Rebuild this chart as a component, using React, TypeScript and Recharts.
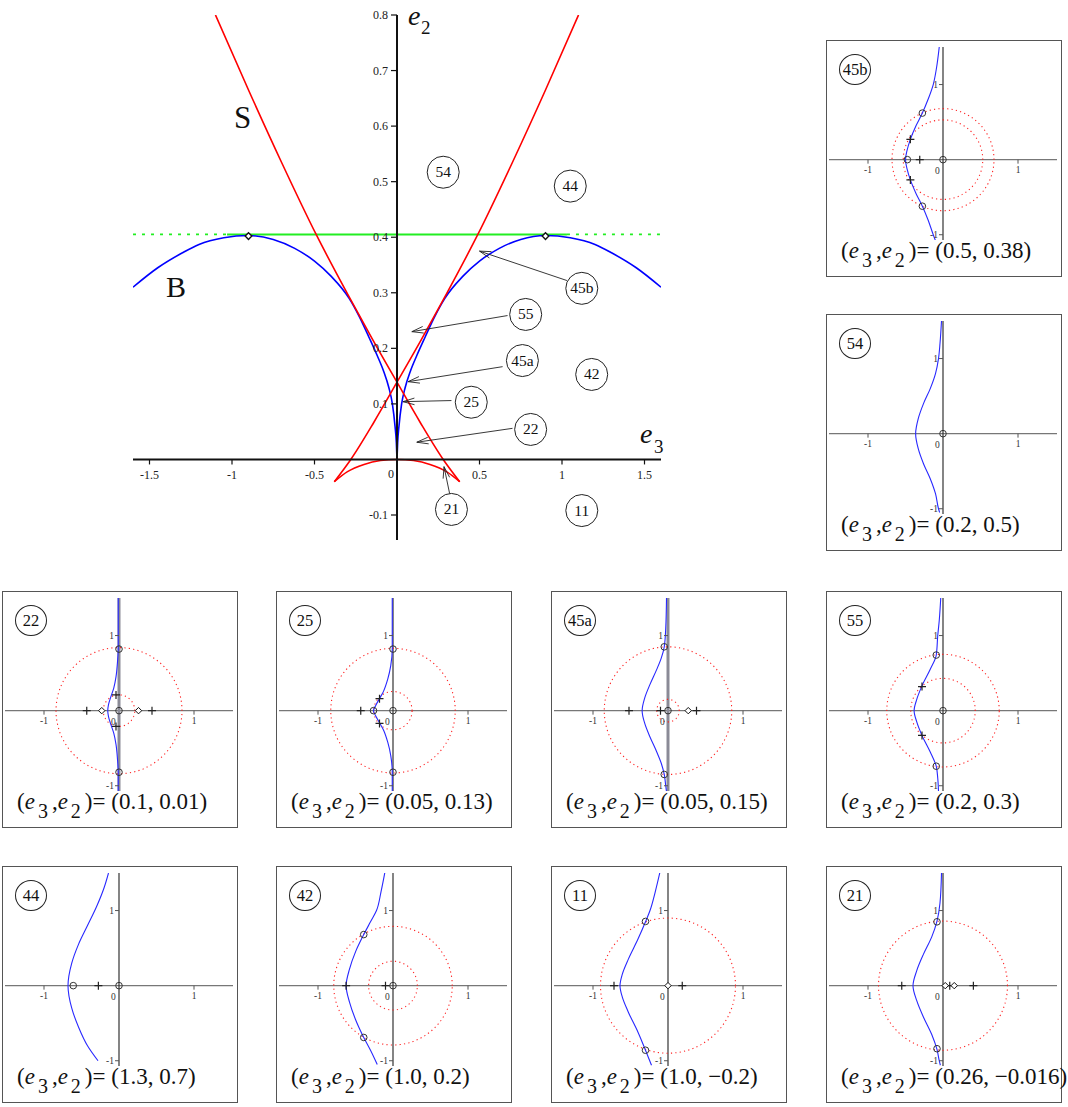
import React from "react"
import { ComposedChart, Line, XAxis, YAxis, ReferenceLine, ReferenceDot } from "recharts"

type XY = [number, number]

// ---- main diagram (e3, e2) ----
const xTicks = [-1.5, -1, -0.5, 0.5, 1, 1.5]
const xTickLabels = ["-1.5", "-1", "-0.5", "0.5", "1", "1.5"]
const yTicks = [-0.1, 0.1, 0.2, 0.3, 0.4, 0.5, 0.6, 0.7, 0.8]
const yTickLabels = ["-0.1", "0.1", "0.2", "0.3", "0.4", "0.5", "0.6", "0.7", "0.8"]

const blueRight: XY[] = [
  [0, 0], [0.004, 0.03], [0.012, 0.06], [0.028, 0.1], [0.05, 0.13], [0.08, 0.158], [0.12, 0.187],
  [0.17, 0.22], [0.23, 0.258], [0.29, 0.29], [0.4, 0.33], [0.5, 0.357], [0.62, 0.38], [0.75, 0.396],
  [0.9, 0.403], [1.05, 0.399], [1.2, 0.387], [1.3, 0.372], [1.45, 0.345], [1.6, 0.31],
]
const blueLeft: XY[] = [
  [-1.6, 0.31], [-1.45, 0.345], [-1.3, 0.372], [-1.2, 0.387], [-1.05, 0.399], [-0.9, 0.403],
  [-0.75, 0.396], [-0.62, 0.38], [-0.5, 0.357], [-0.4, 0.33], [-0.29, 0.29], [-0.23, 0.258],
  [-0.17, 0.22], [-0.12, 0.187], [-0.08, 0.158], [-0.05, 0.13], [-0.028, 0.1], [-0.012, 0.06],
  [-0.004, 0.03], [0, 0],
]
const redRising: XY[] = [
  [-0.38, -0.04], [-0.28, 0], [-0.14, 0.067], [0, 0.139], [0.15, 0.217], [0.3, 0.298],
  [0.49, 0.405], [0.7, 0.535], [0.9, 0.665], [1.1, 0.8],
]
const redFalling: XY[] = [
  [-1.1, 0.8], [-0.9, 0.665], [-0.7, 0.535], [-0.49, 0.405], [-0.3, 0.298], [-0.15, 0.217],
  [0, 0.139], [0.14, 0.067], [0.28, 0], [0.38, -0.04],
]
const redArc: XY[] = [
  [-0.38, -0.04], [-0.3, -0.022], [-0.2, -0.009], [-0.1, -0.002], [0, 0],
  [0.1, -0.002], [0.2, -0.009], [0.3, -0.022], [0.38, -0.04],
]
const greenLevel = 0.405
const greenSolidFrom = -1.03
const greenSolidTo = 1.03
const peakDiamonds: XY[] = [[-0.9, 0.402], [0.9, 0.402]]

const bubbleNames = ["54", "44", "45b", "55", "45a", "42", "25", "22", "21", "11"]
const bubbleE3 = [0.28, 1.05, 1.12, 0.78, 0.76, 1.18, 0.45, 0.81, 0.33, 1.12]
const bubbleE2 = [0.517, 0.492, 0.308, 0.261, 0.178, 0.153, 0.103, 0.054, -0.09, -0.092]

const arrowFrom: XY[] = [[1.03, 0.322], [0.67, 0.259], [0.64, 0.167], [0.33, 0.106], [0.7, 0.056], [0.32, -0.063]]
const arrowTo: XY[] = [[0.5, 0.375], [0.09, 0.23], [0.067, 0.14], [0.036, 0.104], [0.12, 0.031], [0.285, -0.013]]

// ---- small panels (complex plane) ----
const curve45b: XY[] = [[-0.1, -1.08], [-0.13, -1.0], [-0.2, -0.8], [-0.275, -0.62], [-0.36, -0.45], [-0.435, -0.27], [-0.48, -0.12], [-0.5, 0], [-0.48, 0.12], [-0.435, 0.27], [-0.36, 0.45], [-0.275, 0.62], [-0.2, 0.8], [-0.13, 1.0], [-0.09, 1.2], [-0.05, 1.5]]
const rings45b = [0.68, 0.53]
const o45b: XY[] = [[0, 0], [-0.475, 0], [-0.275, 0.62], [-0.275, -0.62]]
const plus45b: XY[] = [[-0.31, 0], [-0.435, 0.27], [-0.435, -0.27]]
const dia45b: XY[] = []

const curve54: XY[] = [[-0.045, -1.05], [-0.06, -1.0], [-0.1, -0.8], [-0.17, -0.6], [-0.26, -0.4], [-0.33, -0.2], [-0.365, 0], [-0.33, 0.2], [-0.26, 0.4], [-0.17, 0.6], [-0.1, 0.8], [-0.06, 1.0], [-0.04, 1.2], [-0.02, 1.5]]
const rings54: number[] = []
const o54: XY[] = [[0, 0]]
const plus54: XY[] = []
const dia54: XY[] = []

const curve22: XY[] = [[-0.01, -1.07], [-0.01, -0.83], [-0.02, -0.65], [-0.04, -0.45], [-0.07, -0.3], [-0.11, -0.18], [-0.14, -0.08], [-0.15, 0], [-0.14, 0.08], [-0.11, 0.18], [-0.07, 0.3], [-0.04, 0.45], [-0.02, 0.65], [-0.01, 0.83], [-0.01, 1.1], [-0.01, 1.5]]
const rings22 = [0.84, 0.21]
const o22: XY[] = [[0, 0], [0, 0.82], [0, -0.82]]
const plus22: XY[] = [[-0.43, 0], [0.44, 0], [-0.04, 0.21], [-0.04, -0.21]]
const dia22: XY[] = [[-0.23, 0], [0.26, 0]]

const curve25: XY[] = [[-0.01, -1.07], [-0.01, -0.82], [-0.03, -0.6], [-0.07, -0.42], [-0.13, -0.25], [-0.18, -0.16], [-0.23, -0.07], [-0.26, 0], [-0.23, 0.07], [-0.18, 0.16], [-0.13, 0.25], [-0.07, 0.42], [-0.03, 0.6], [-0.01, 0.82], [-0.01, 1.5]]
const rings25 = [0.83, 0.255]
const o25: XY[] = [[0, 0], [-0.26, 0], [0, 0.82], [0, -0.82]]
const plus25: XY[] = [[-0.43, 0], [-0.18, 0.16], [-0.18, -0.17]]
const dia25: XY[] = []

const curve45a: XY[] = [[-0.02, -1.08], [-0.03, -1.0], [-0.05, -0.85], [-0.09, -0.7], [-0.15, -0.55], [-0.24, -0.35], [-0.31, -0.17], [-0.345, 0], [-0.31, 0.17], [-0.24, 0.35], [-0.15, 0.55], [-0.09, 0.7], [-0.05, 0.85], [-0.03, 1.1], [-0.02, 1.5]]
const rings45a = [0.85, 0.15]
const o45a: XY[] = [[0, 0], [-0.05, 0.85], [-0.05, -0.85]]
const plus45a: XY[] = [[-0.52, 0], [-0.1, 0], [0.38, 0]]
const dia45a: XY[] = [[0.27, 0]]

const curve55: XY[] = [[-0.06, -1.07], [-0.07, -0.9], [-0.09, -0.74], [-0.17, -0.55], [-0.28, -0.33], [-0.35, -0.15], [-0.385, 0], [-0.35, 0.15], [-0.28, 0.33], [-0.17, 0.55], [-0.09, 0.74], [-0.07, 1.0], [-0.05, 1.2], [-0.03, 1.5]]
const rings55 = [0.75, 0.43]
const o55: XY[] = [[0, 0], [-0.09, 0.74], [-0.09, -0.74]]
const plus55: XY[] = [[-0.28, 0.32], [-0.28, -0.33]]
const dia55: XY[] = []

const curve44: XY[] = [[-0.28, -1.0], [-0.42, -0.8], [-0.54, -0.55], [-0.63, -0.3], [-0.68, 0], [-0.63, 0.3], [-0.54, 0.55], [-0.42, 0.8], [-0.3, 1.05], [-0.2, 1.3], [-0.14, 1.5]]
const rings44: number[] = []
const o44: XY[] = [[0, 0], [-0.61, 0]]
const plus44: XY[] = [[-0.275, 0]]
const dia44: XY[] = []

const curve42: XY[] = [[-0.21, -1.05], [-0.3, -0.86], [-0.39, -0.69], [-0.5, -0.45], [-0.58, -0.22], [-0.625, 0], [-0.58, 0.22], [-0.5, 0.45], [-0.39, 0.68], [-0.3, 0.85], [-0.22, 1.0], [-0.16, 1.25], [-0.11, 1.5]]
const rings42 = [0.79, 0.325]
const o42: XY[] = [[0, 0], [-0.39, 0.68], [-0.39, -0.69]]
const plus42: XY[] = [[-0.625, 0], [-0.1, 0]]
const dia42: XY[] = []

const curve11: XY[] = [[-0.22, -1.06], [-0.3, -0.86], [-0.4, -0.62], [-0.53, -0.35], [-0.61, -0.15], [-0.64, 0], [-0.61, 0.15], [-0.53, 0.35], [-0.4, 0.62], [-0.3, 0.85], [-0.24, 1.0], [-0.17, 1.25], [-0.11, 1.5]]
const rings11 = [0.9]
const o11: XY[] = [[-0.3, 0.855], [-0.3, -0.86]]
const plus11: XY[] = [[-0.72, 0], [0.19, 0]]
const dia11: XY[] = [[0, 0]]

const curve21: XY[] = [[-0.035, -1.06], [-0.05, -1.0], [-0.08, -0.85], [-0.15, -0.65], [-0.26, -0.42], [-0.35, -0.2], [-0.4, 0], [-0.35, 0.2], [-0.26, 0.42], [-0.15, 0.65], [-0.08, 0.86], [-0.04, 1.1], [-0.02, 1.5]]
const rings21 = [0.86]
const o21: XY[] = [[-0.08, 0.85], [-0.08, -0.84]]
const plus21: XY[] = [[-0.55, 0], [0.09, 0], [0.405, 0]]
const dia21: XY[] = [[0.03, 0], [0.15, 0]]

const panelTicks = [-1, 1]

const SERIF = "'Liberation Serif', 'Times New Roman', Times, serif"

const pts = (a: XY[]) => a.map(([x, y]) => ({ x, y }))

// dotted ring of radius r around the origin
const ringPts = (r: number) => {
  const out: { x: number; y: number }[] = []
  for (let i = 0; i <= 160; i++) {
    const t = (i / 160) * Math.PI * 2
    out.push({ x: r * Math.cos(t), y: r * Math.sin(t) })
  }
  return out
}

const Bubble = (text: string) => (p: any) => (
  <g>
    <ellipse cx={p.cx} cy={p.cy} rx={16} ry={16} fill="#fff" stroke="#222" strokeWidth={1} />
    <text x={p.cx} y={p.cy + 5} textAnchor="middle" fontSize={15.5} fontFamily={SERIF} fill="#111">{text}</text>
  </g>
)

const Arrow = (p: any) => {
  const { x1, y1, x2, y2 } = p
  const a = Math.atan2(y2 - y1, x2 - x1)
  const L = 12
  const ax = x2 - L * Math.cos(a - 0.28)
  const ay = y2 - L * Math.sin(a - 0.28)
  const bx = x2 - L * Math.cos(a + 0.28)
  const by = y2 - L * Math.sin(a + 0.28)
  return (
    <g>
      <line x1={x1} y1={y1} x2={x2} y2={y2} stroke="#222" strokeWidth={0.9} />
      <path d={`M${ax},${ay}L${x2},${y2}L${bx},${by}`} fill="none" stroke="#222" strokeWidth={0.9} />
    </g>
  )
}

const Diamond = (s: number, w: number) => (p: any) => (
  <path d={`M${p.cx},${p.cy - s}L${p.cx + s},${p.cy}L${p.cx},${p.cy + s}L${p.cx - s},${p.cy}Z`} fill="#fff" stroke="#111" strokeWidth={w} />
)
const Ring = (p: any) => <circle cx={p.cx} cy={p.cy} r={3.3} fill="none" stroke="#333" strokeWidth={1} />
const Plus = (p: any) => (
  <path d={`M${p.cx - 4},${p.cy}H${p.cx + 4}M${p.cx},${p.cy - 4}V${p.cy + 4}`} stroke="#222" strokeWidth={1.2} />
)

function MainChart() {
  return (
    <ComposedChart width={700} height={560} margin={{ top: 15, right: 39, bottom: 20, left: 133 }}>
      <XAxis type="number" dataKey="x" domain={[-1.6, 1.6]} hide allowDataOverflow />
      <YAxis type="number" dataKey="y" domain={[-0.145, 0.8]} hide allowDataOverflow />

      <Line data={pts([[-1.6, greenLevel], [greenSolidFrom, greenLevel]])} dataKey="y" type="linear" stroke="#22ee22" strokeWidth={1.8} strokeDasharray="3 6" dot={false} isAnimationActive={false} />
      <Line data={pts([[greenSolidFrom, greenLevel], [greenSolidTo, greenLevel]])} dataKey="y" type="linear" stroke="#22ee22" strokeWidth={2} dot={false} isAnimationActive={false} />
      <Line data={pts([[greenSolidTo, greenLevel], [1.6, greenLevel]])} dataKey="y" type="linear" stroke="#22ee22" strokeWidth={1.8} strokeDasharray="3 6" dot={false} isAnimationActive={false} />

      <Line data={pts(blueLeft)} dataKey="y" type="monotone" stroke="#0000ff" strokeWidth={1.6} dot={false} isAnimationActive={false} />
      <Line data={pts(blueRight)} dataKey="y" type="monotone" stroke="#0000ff" strokeWidth={1.6} dot={false} isAnimationActive={false} />
      <Line data={pts(redRising)} dataKey="y" type="monotone" stroke="#ff0000" strokeWidth={1.6} dot={false} isAnimationActive={false} />
      <Line data={pts(redFalling)} dataKey="y" type="monotone" stroke="#ff0000" strokeWidth={1.6} dot={false} isAnimationActive={false} />
      <Line data={pts(redArc)} dataKey="y" type="monotone" stroke="#ff0000" strokeWidth={1.6} dot={false} isAnimationActive={false} />

      <ReferenceLine segment={[{ x: -1.6, y: 0 }, { x: 1.6, y: 0 }]} stroke="#111" strokeWidth={2} ifOverflow="visible" />
      <ReferenceLine segment={[{ x: 0, y: -0.145 }, { x: 0, y: 0.8 }]} stroke="#111" strokeWidth={2} ifOverflow="visible" />

      {xTicks.map((v, i) => (
        <ReferenceDot key={"xt" + i} x={v} y={0} ifOverflow="visible" shape={(p: any) => (
          <g>
            <line x1={p.cx} y1={p.cy} x2={p.cx} y2={p.cy + 5} stroke="#111" strokeWidth={1.2} />
            <text x={p.cx} y={p.cy + 20} textAnchor="middle" fontSize={12} fontFamily={SERIF} fill="#222">{xTickLabels[i]}</text>
          </g>
        )} />
      ))}
      <ReferenceDot x={0} y={0} ifOverflow="visible" shape={(p: any) => (
        <text x={p.cx - 6} y={p.cy + 19} textAnchor="middle" fontSize={12} fontFamily={SERIF} fill="#222">0</text>
      )} />
      {yTicks.map((v, i) => (
        <ReferenceDot key={"yt" + i} x={0} y={v} ifOverflow="visible" shape={(p: any) => (
          <g>
            <line x1={p.cx - 6} y1={p.cy} x2={p.cx} y2={p.cy} stroke="#111" strokeWidth={1.2} />
            <text x={p.cx - 9} y={p.cy + 4} textAnchor="end" fontSize={12} fontFamily={SERIF} fill="#222">{yTickLabels[i]}</text>
          </g>
        )} />
      ))}

      {peakDiamonds.map(([x, y], i) => (
        <ReferenceDot key={"pd" + i} x={x} y={y} ifOverflow="visible" shape={Diamond(3.3, 1.4)} />
      ))}

      {arrowFrom.map((f, i) => (
        <ReferenceLine key={"ar" + i} segment={[{ x: f[0], y: f[1] }, { x: arrowTo[i][0], y: arrowTo[i][1] }]} ifOverflow="visible" shape={Arrow} />
      ))}
      {bubbleNames.map((n, i) => (
        <ReferenceDot key={"bb" + n} x={bubbleE3[i]} y={bubbleE2[i]} ifOverflow="visible" shape={Bubble(n)} />
      ))}
    </ComposedChart>
  )
}

interface PanelSpec {
  name: string
  value: string
  curve: XY[]
  rings: number[]
  o: XY[]
  plus: XY[]
  dia: XY[]
  left: number
  top: number
  wideVAxis?: boolean
}

const panels: PanelSpec[] = [
  { name: "45b", value: "(0.5, 0.38)", curve: curve45b, rings: rings45b, o: o45b, plus: plus45b, dia: dia45b, left: 826, top: 40 },
  { name: "54", value: " (0.2, 0.5)", curve: curve54, rings: rings54, o: o54, plus: plus54, dia: dia54, left: 826, top: 314 },
  { name: "22", value: "(0.1, 0.01)", curve: curve22, rings: rings22, o: o22, plus: plus22, dia: dia22, left: 2, top: 591, wideVAxis: true },
  { name: "25", value: "(0.05, 0.13)", curve: curve25, rings: rings25, o: o25, plus: plus25, dia: dia25, left: 276, top: 591 },
  { name: "45a", value: "(0.05, 0.15)", curve: curve45a, rings: rings45a, o: o45a, plus: plus45a, dia: dia45a, left: 551, top: 591, wideVAxis: true },
  { name: "55", value: "(0.2, 0.3)", curve: curve55, rings: rings55, o: o55, plus: plus55, dia: dia55, left: 826, top: 591 },
  { name: "44", value: "(1.3, 0.7)", curve: curve44, rings: rings44, o: o44, plus: plus44, dia: dia44, left: 2, top: 866 },
  { name: "42", value: "(1.0, 0.2)", curve: curve42, rings: rings42, o: o42, plus: plus42, dia: dia42, left: 276, top: 866 },
  { name: "11", value: "(1.0, \u22120.2)", curve: curve11, rings: rings11, o: o11, plus: plus11, dia: dia11, left: 551, top: 866 },
  { name: "21", value: "(0.26, \u22120.016)", curve: curve21, rings: rings21, o: o21, plus: plus21, dia: dia21, left: 826, top: 866 },
]

const PW = 236
const PH = 237
const subStyle: React.CSSProperties = { fontSize: 20, position: "relative", top: 9, margin: "0 4px 0 3px" }

function Panel({ p }: { p: PanelSpec }) {
  return (
    <div style={{ position: "absolute", left: p.left, top: p.top, width: PW, height: PH, border: "1.5px solid #555", boxSizing: "border-box", background: "#fff" }}>
      <div style={{ position: "absolute", left: 0, top: 0 }}>
        <ComposedChart width={PW - 3} height={PH - 3} margin={{ top: 6, right: 3, bottom: 35, left: 2 }}>
          <XAxis type="number" dataKey="x" domain={[-1.52, 1.52]} hide allowDataOverflow />
          <YAxis type="number" dataKey="y" domain={[-1.07, 1.5]} hide allowDataOverflow />
          <ReferenceLine segment={[{ x: -1.52, y: 0 }, { x: 1.52, y: 0 }]} stroke="#777" strokeWidth={1.4} ifOverflow="visible" />
          <ReferenceLine segment={[{ x: 0, y: -1.07 }, { x: 0, y: 1.5 }]} stroke={p.wideVAxis ? "#8a8a96" : "#333"} strokeWidth={p.wideVAxis ? 3 : 1.2} ifOverflow="visible" />
          {panelTicks.map((v) => (
            <ReferenceDot key={"px" + v} x={v} y={0} ifOverflow="visible" shape={(s: any) => (
              <g>
                <line x1={s.cx} y1={s.cy} x2={s.cx} y2={s.cy + 4} stroke="#555" />
                <text x={s.cx} y={s.cy + 13} textAnchor="middle" fontSize={9.5} fontFamily={SERIF} fill="#333">{v < 0 ? "-1" : "1"}</text>
              </g>
            )} />
          ))}
          {panelTicks.map((v) => (
            <ReferenceDot key={"py" + v} x={0} y={v} ifOverflow="visible" shape={(s: any) => (
              <g>
                <line x1={s.cx - 4} y1={s.cy} x2={s.cx} y2={s.cy} stroke="#555" />
                <text x={s.cx - 5} y={s.cy + 3} textAnchor="end" fontSize={9.5} fontFamily={SERIF} fill="#333">{v < 0 ? "-1" : "1"}</text>
              </g>
            )} />
          ))}
          <ReferenceDot x={0} y={0} ifOverflow="visible" shape={(s: any) => (
            <text x={s.cx - 8} y={s.cy + 14} fontSize={9.5} fontFamily={SERIF} fill="#333">0</text>
          )} />
          {p.rings.map((r, i) => (
            <Line key={"rg" + i} data={ringPts(r)} dataKey="y" type="linear" stroke="#ff2020" strokeWidth={1.1} strokeDasharray="1.2 3.2" dot={false} isAnimationActive={false} />
          ))}
          <Line data={pts(p.curve)} dataKey="y" type="monotoneY" stroke="#2828ff" strokeWidth={1.1} dot={false} isAnimationActive={false} />
          {p.o.map(([x, y], i) => (
            <ReferenceDot key={"o" + i} x={x} y={y} ifOverflow="visible" shape={Ring} />
          ))}
          {p.plus.map(([x, y], i) => (
            <ReferenceDot key={"pl" + i} x={x} y={y} ifOverflow="visible" shape={Plus} />
          ))}
          {p.dia.map(([x, y], i) => (
            <ReferenceDot key={"d" + i} x={x} y={y} ifOverflow="visible" shape={Diamond(3.2, 1)} />
          ))}
        </ComposedChart>
      </div>
      <div style={{ position: "absolute", left: 12, top: 13, width: 32, height: 31, border: "1px solid #222", borderRadius: "50%", boxSizing: "border-box", fontFamily: SERIF, fontSize: 16.5, lineHeight: "29px", textAlign: "center", color: "#111", background: "#fff" }}>
        {p.name}
      </div>
      <div style={{ position: "absolute", left: 14, top: 196, fontFamily: SERIF, fontSize: 23, lineHeight: "28px", whiteSpace: "nowrap", color: "#111" }}>
        (<i>e</i><span style={subStyle}>3</span>,<i>e</i><span style={subStyle}>2</span>)= {p.value}
      </div>
    </div>
  )
}

export default function App() {
  return (
    <div style={{ position: "absolute", left: 0, top: 0, width: 1068, height: 1107, background: "#fff", overflow: "hidden" }}>
      <div style={{ position: "absolute", left: 0, top: 0 }}>
        <MainChart />
      </div>
      <svg width={700} height={560} style={{ position: "absolute", left: 0, top: 0, pointerEvents: "none" }}>
        <text x={234} y={128} fontSize={31} fontFamily={SERIF} fill="#111">S</text>
        <text x={166} y={297} fontSize={30} fontFamily={SERIF} fill="#111">B</text>
        <text x={408} y={25} fontSize={28} fontStyle="italic" fontFamily={SERIF} fill="#111">e</text>
        <text x={421} y={34} fontSize={19} fontFamily={SERIF} fill="#111">2</text>
        <text x={640} y={443} fontSize={28} fontStyle="italic" fontFamily={SERIF} fill="#111">e</text>
        <text x={654} y={453} fontSize={19} fontFamily={SERIF} fill="#111">3</text>
      </svg>
      {panels.map((p) => (
        <Panel key={p.name} p={p} />
      ))}
    </div>
  )
}
